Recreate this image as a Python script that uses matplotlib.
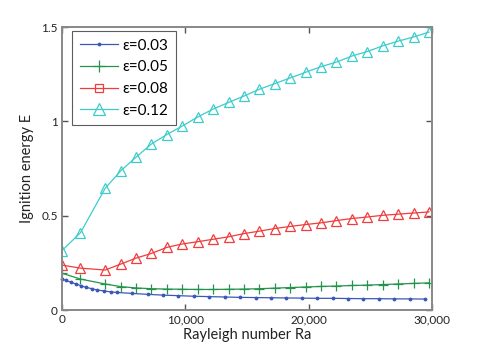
import matplotlib
matplotlib.use("Agg")
import matplotlib.pyplot as plt
from matplotlib.lines import Line2D

# ---- data ----
ra_blue = [0, 320, 730, 1140, 1540, 1950, 2430, 2840, 3410, 3970, 4440,
           5690, 6940, 8190, 9440, 10690, 11940, 13190, 14440, 15690, 16940,
           18190, 19440, 20690, 21940, 23190, 24440, 25690, 26940, 28190, 29440]
e_blue = [0.164, 0.157, 0.147, 0.138, 0.129, 0.120, 0.113, 0.106, 0.101, 0.096, 0.093,
          0.088, 0.083, 0.079, 0.076, 0.073, 0.071, 0.069, 0.067, 0.066, 0.065,
          0.064, 0.063, 0.062, 0.062, 0.061, 0.060, 0.060, 0.059, 0.059, 0.058]

ra_grid = [0, 1500, 3500, 4750, 6000, 7250, 8500, 9750, 11000, 12250, 13500,
           14750, 16000, 17250, 18500, 19750, 21000, 22250, 23500, 24750,
           26000, 27250, 28500, 29750]
e_green = [0.195, 0.164, 0.138, 0.124, 0.117, 0.113, 0.111, 0.110, 0.109, 0.109, 0.110,
           0.111, 0.113, 0.116, 0.119, 0.122, 0.125, 0.127, 0.130, 0.132,
           0.135, 0.138, 0.141, 0.144]
e_red = [0.238, 0.222, 0.212, 0.243, 0.275, 0.300, 0.332, 0.350, 0.362, 0.375, 0.388,
         0.405, 0.418, 0.432, 0.443, 0.453, 0.462, 0.474, 0.485, 0.493,
         0.502, 0.508, 0.514, 0.520]
e_cyan = [0.315, 0.41, 0.645, 0.737, 0.810, 0.880, 0.930, 0.975, 1.023, 1.065, 1.100,
          1.134, 1.170, 1.200, 1.230, 1.260, 1.290, 1.314, 1.346, 1.370,
          1.400, 1.425, 1.447, 1.473]

labels = ["\u03b5=0.03", "\u03b5=0.05", "\u03b5=0.08", "\u03b5=0.12"]
colors = ["#3b57b8", "#24934c", "#f03c3c", "#3ccccc"]
xticks = [0, 10000, 20000, 30000]
xticklabels = ["0", "10,000", "20,000", "30,000"]
yticks = [0, 0.5, 1, 1.5]
yticklabels = ["0", "0.5", "1", "1.5"]

plt.rcParams['font.family'] = ['Lato', 'DejaVu Sans']

fig = plt.figure(figsize=(4.78, 3.49), dpi=100)
ax = fig.add_axes([0.1297, 0.1117, 0.7741, 0.8109])

ax.plot(ra_blue, e_blue, color=colors[0], lw=0.9, marker='.', ms=3.5, clip_on=False)
ax.plot(ra_grid, e_green, color=colors[1], lw=0.9, marker='+', ms=7, mew=0.9)
ax.plot(ra_grid, e_red, color=colors[2], lw=0.9, marker='^', ms=7, mfc='none', mew=0.9)
ax.plot(ra_grid, e_cyan, color=colors[3], lw=0.9, marker='^', ms=7, mfc='none', mew=0.9)

ax.set_xlim(0, 30000)
ax.set_ylim(0, 1.5)
ax.set_xticks(xticks)
ax.set_xticklabels(xticklabels)
ax.set_yticks(yticks)
ax.set_yticklabels(yticklabels)
ax.tick_params(direction='in', top=True, right=True, length=4, width=1,
               color='#555555', labelsize=8.5, labelcolor='#222222', pad=3)
for s in ax.spines.values():
    s.set_color('#888888')
    s.set_linewidth(1.4)

ax.set_xlabel("Rayleigh number Ra", fontsize=10.5, color='#222222', labelpad=2)
ax.set_ylabel("Ignition energy E", fontsize=10.5, color='#222222', labelpad=5)

handles = [
    Line2D([], [], color=colors[0], lw=0.9, marker='.', ms=3.5),
    Line2D([], [], color=colors[1], lw=0.9, marker='+', ms=8, mew=0.9),
    Line2D([], [], color=colors[2], lw=0.9, marker='s', ms=6, mfc='none', mew=0.9),
    Line2D([], [], color=colors[3], lw=0.9, marker='^', ms=8, mfc='none', mew=0.9),
]
leg = ax.legend(handles, labels, loc='upper left', fontsize=11, frameon=True,
                fancybox=False, edgecolor='#333333', handlelength=2.5,
                borderaxespad=0.0, labelspacing=0.5, handletextpad=0.3,
                borderpad=0.5,
                bbox_to_anchor=(10 / 370, 1 - 4 / 283))
leg.get_frame().set_linewidth(0.8)

fig.savefig("out.png", dpi=100)
